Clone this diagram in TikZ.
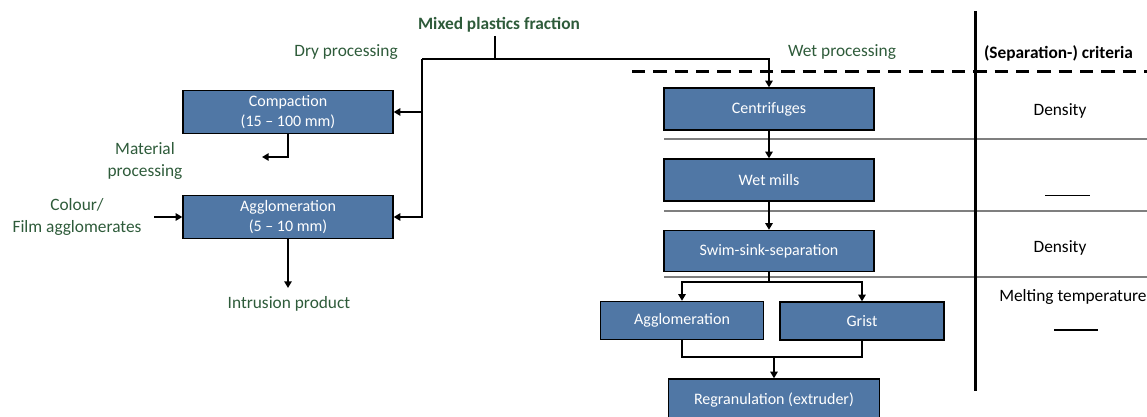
\documentclass[tikz,border=0pt]{standalone}
\usepackage{fontspec}
\setmainfont{Carlito}
\usetikzlibrary{arrows.meta}
\definecolor{boxblue}{HTML}{5077A5}
\definecolor{lblgreen}{HTML}{2E5B3A}
\definecolor{sepgray}{HTML}{7F7F7F}
\begin{document}
\begin{tikzpicture}[x=0.75pt,y=-0.75pt,
  box/.style={draw=black, line width=1pt, fill=boxblue, text=white,
    font=\fontsize{12}{15}\selectfont, align=center, inner sep=0pt},
  lbl/.style={text=lblgreen, font=\fontsize{13}{16.5}\selectfont, align=center, inner sep=0pt},
  crit/.style={text=black, font=\fontsize{13}{16}\selectfont, inner sep=0pt},
  conn/.style={line width=1.5pt, -{Triangle[length=5pt,width=5.5pt]}},
  plain/.style={line width=1.5pt},
  sep/.style={draw=sepgray, line width=0.8pt}]
\useasboundingbox (0,0) rectangle (1147,417);
\clip (0,0) rectangle (1147,417);

% separators and frame lines
\draw[sep] (664,139) -- (1147,139);
\draw[sep] (664,211) -- (1147,211);
\draw[sep] (664,277) -- (1147,277);
\draw[line width=2pt, dash pattern=on 10pt off 6pt] (632,71.5) -- (1147,71.5);
\draw[line width=2.8pt] (975.5,11) -- (975.5,391);

% boxes
\node[box, minimum width=210*0.75pt, minimum height=43*0.75pt] (comp) at (288,112) {Compaction\\(15 – 100 mm)};
\node[box, minimum width=210*0.75pt, minimum height=43*0.75pt] (agl) at (288,217) {Agglomeration\\(5 – 10 mm)};
\node[box, minimum width=210*0.75pt, minimum height=42*0.75pt] (cent) at (769,109) {Centrifuges};
\node[box, minimum width=210*0.75pt, minimum height=42*0.75pt] (wet) at (769,180) {Wet mills};
\node[box, minimum width=210*0.75pt, minimum height=41*0.75pt] (swim) at (769,251) {Swim-sink-separation};
\node[box, minimum width=163*0.75pt, minimum height=38*0.75pt] (aglr) at (682,320.5) {Agglomeration};
\node[box, minimum width=164*0.75pt, minimum height=38*0.75pt] (grist) at (862,321) {Grist};
\node[box, minimum width=211*0.75pt, minimum height=42*0.75pt] (regr) at (774,400) {Regranulation (extruder)};

% labels
\node[lbl, font=\bfseries\fontsize{13}{16}\selectfont] (mixed) at (499,25) {Mixed plastics fraction};
\node[lbl] (dry) at (346,52) {Dry processing};
\node[lbl] (wetp) at (842,52) {Wet processing};
\node[crit, font=\bfseries\fontsize{13}{16}\selectfont] (critt) at (1058.5,53.5) {(Separation-) criteria};
\node[lbl] (matp) at (145,161) {Material\\processing};
\node[lbl] (colour) at (77,216.5) {Colour/\\Film agglomerates};
\node[lbl] (intr) at (289,303.5) {Intrusion product};
\node[crit] (d1) at (1060,110.5) {Density};
\node[crit] (d2) at (1060,247.5) {Density};
\node[crit, anchor=west] (melt) at (999,297) {Melting temperature};
\draw[line width=0.9pt] (1045,195.5) -- (1090,195.5);
\draw[line width=0.9pt] (1054,330) -- (1098,330);

% connectors
\coordinate (tk) at (495,36);
\coordinate (lj) at (422,59);
\coordinate (rj) at (cent.north |- lj);
\draw[plain] (tk) -- (tk |- lj);
\draw[conn] (lj) -- (rj) -- (cent.north);
\draw[conn] (lj) |- (comp.east);
\draw[conn] (lj) |- (agl.east);
\coordinate (mp) at (262,157);
\draw[conn] (comp.south) |- (mp);
\coordinate (ca) at (154,217);
\draw[conn] (ca) -- (agl.west);
\coordinate (ia) at (288,288);
\draw[conn] (agl.south) -- (ia);
\draw[conn] (cent.south) -- (wet.north);
\draw[conn] (wet.south) -- (swim.north);
\coordinate (br) at (769,282);
\draw[plain] (swim.south) -- (br);
\draw[conn] (br) -| (aglr.north);
\draw[conn] (br) -| (grist.north);
\coordinate (jn) at (774,357);
\draw[plain] (aglr.south) |- (jn) -| (grist.south);
\draw[conn] (jn) -- (regr.north);
\end{tikzpicture}
\end{document}
